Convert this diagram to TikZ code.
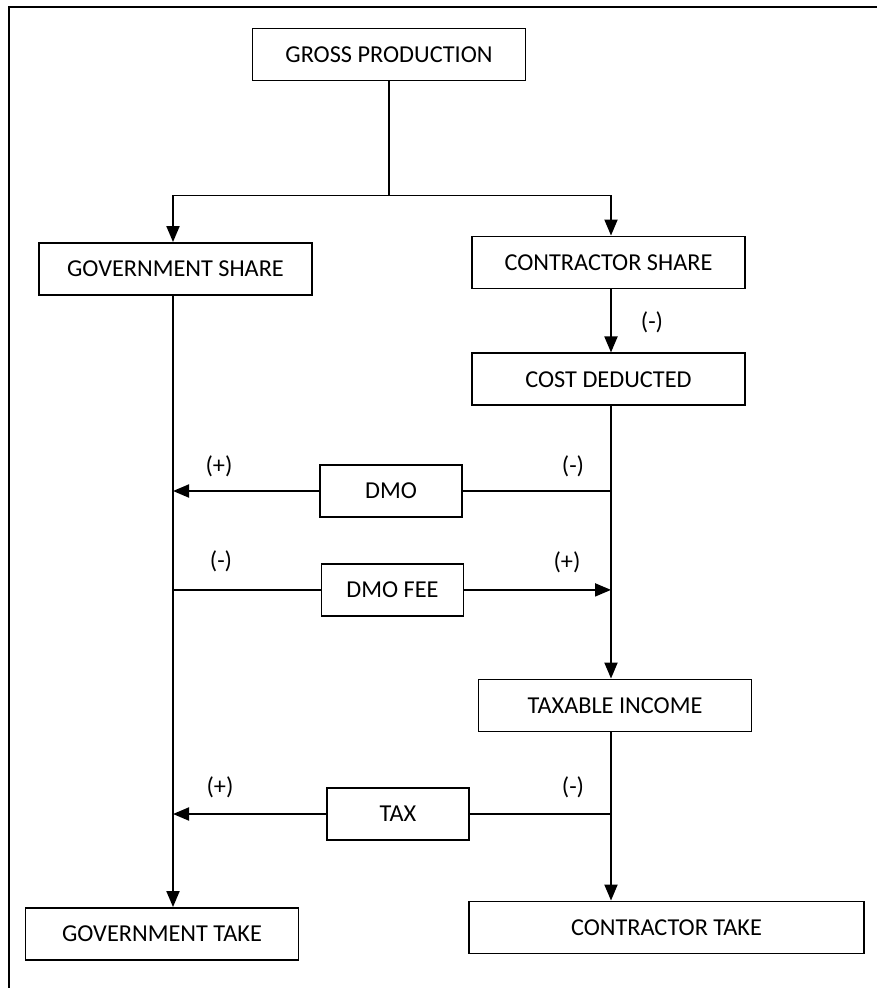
\documentclass[tikz,border=0pt]{standalone}
\usepackage{fontspec}
\setmainfont{Carlito}
\usetikzlibrary{positioning, arrows.meta}

\begin{document}
\begin{tikzpicture}[x=1pt, y=-1pt, line width=1.9pt, >={Triangle[length=16pt, width=13pt]},
		every node/.style={font=\fontsize{24.3}{28}\selectfont},
		block/.style={draw, inner sep=0pt, minimum height=52pt},
		wide/.style={block, minimum width=273pt},
		small/.style={block, minimum width=142pt},
		sign/.style={inner sep=0pt}]
		\useasboundingbox (0,0) rectangle (876,988);
		\draw (9,1000) -- (9,7) -- (890,7);
		\coordinate (gl) at (173,0);
		\coordinate (cl) at (611,0);
		
		\node[wide] (gross) at (389,54.5) {GROSS PRODUCTION};
		\node[wide] (govshare) at (175.5,269) {GOVERNMENT SHARE};
		\node[wide] (cshare) at (608.5,262.5) {CONTRACTOR SHARE};
		\node[wide] (costded) [below=63pt of cshare] {COST DEDUCTED};
		\node[small] (dmo) at (391,491) {DMO};
		\node[small] (dmofee) [below=45pt of dmo, xshift=1.5pt] {DMO FEE};
		\node[wide] (taxinc) at (615,705.5) {TAXABLE INCOME};
		\node[small] (tax) at (398,814) {TAX};
		\node[wide] (govtake) at (162,934) {GOVERNMENT TAKE};
		\node[block, minimum width=395pt] (ctake) at (666.5,927.5) {CONTRACTOR TAKE};
		
		\node[sign] (dmoplus) at (219,466) {(+)};
		\node[sign] (dmominus) at (573,466) {(-)};
		\node[sign] (feeminus) at (221,561) {(-)};
		\node[sign] (feeplus) at (567,562) {(+)};
		\node[sign] (taxplus) at (220,787) {(+)};
		\node[sign] (taxminus) at (573,787) {(-)};
		\node[sign] (costminus) at (652,322) {(-)};
		
		\draw (gross.south) -- ++(0,114) coordinate (split);
		\draw[->] (split) -| (govshare.north -| gl);
		\draw[->] (split) -| (cshare.north -| cl);
		\draw[->] (cshare.south -| cl) -- (costded.north -| cl);
		\draw[->] (costded.south -| cl) -- (taxinc.north -| cl);
		\draw[->] (taxinc.south -| cl) -- (ctake.north -| cl);
		\draw[->] (govshare.south -| gl) -- (govtake.north -| gl);
		
		\draw (dmo.east -| cl) -- (dmo.east);
		\draw[->] (dmo.west) -- (dmo.west -| gl);
		\draw (dmofee.west -| gl) -- (dmofee.west);
		\draw[->] (dmofee.east) -- (dmofee.east -| cl);
		\draw (tax.east -| cl) -- (tax.east);
		\draw[->] (tax.west) -- (tax.west -| gl);
	\end{tikzpicture}
\end{document}
